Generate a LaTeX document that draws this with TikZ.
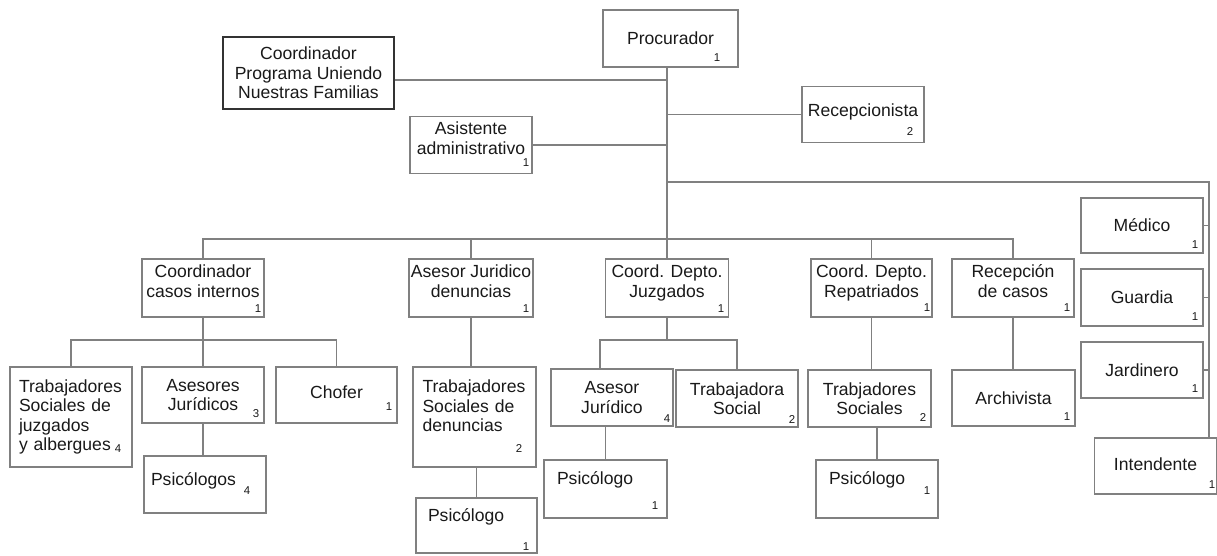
\documentclass[tikz,border=0pt]{standalone}
\usepackage{fontspec}
\setmainfont{Liberation Sans}
\tikzset{%
    caja/.style={draw=black!50,line width=0.6pt,inner xsep=1pt,inner ysep=0pt,align=center,minimum width=2.44cm,minimum height=1.14cm,font=\fontsize{10}{11.1}\selectfont,text=black!90},
    izq/.style={align=left,text width=#1},
    arriba/.style={text depth=#1},
    cifra/.style={inner sep=0pt,font=\fontsize{6.5}{7}\selectfont,text=black!90},
    linea/.style={draw=black!50,line width=0.6pt},
}
\begin{document}
\begin{tikzpicture}[x=0.02cm,y=-0.02cm]
	\useasboundingbox (0,0) rectangle (1217,555);
	
	%top
	\node[caja,minimum width=2.7cm] (proc) at (670.5,38.5) {Procurador};
	\node[caja,minimum width=3.42cm,minimum height=1.44cm,draw=black!80,line width=1.1pt] (cpun) at (308.5,73) {Coordinador\\Programa Uniendo\\Nuestras Familias};
	\node[caja,minimum height=1.12cm,arriba=4.5pt] (recep) at (863,114.5) {Recepcionista};
	\node[caja,arriba=8pt] (asist) at (471,145) {Asistente\\administrativo};
	
	%second level
	\node[caja,minimum height=1.16cm,arriba=8pt] (cci) at (203,288) {Coordinador\\casos internos};
	\node[caja,minimum width=2.48cm,minimum height=1.16cm,arriba=8pt] (ajd) at (471,288) {Asesor Juridico\\denuncias};
	\node[caja,minimum width=2.46cm,minimum height=1.16cm,arriba=8pt] (cdj) at (667,288) {Coord. Depto.\\Juzgados};
	\node[caja,minimum width=2.42cm,minimum height=1.16cm,arriba=8pt] (cdr) at (871.5,288) {Coord. Depto.\\Repatriados};
	\node[caja,minimum height=1.16cm,arriba=8pt] (rc) at (1013,288) {Recepción\\de casos};
	
	%third level
	\node[caja,minimum height=2cm,izq=2.08cm] (tsja) at (71,417) {Trabajadores\\Sociales de\\juzgados\\y albergues};
	\node[caja,minimum height=1.12cm] (asj) at (203,395) {Asesores\\Jurídicos};
	\node[caja,minimum width=2.42cm,minimum height=1.12cm,arriba=3pt] (chofer) at (336.5,395) {Chofer};
	\node[caja,minimum width=2.46cm,minimum height=2cm,izq=2.08cm,arriba=35pt] (tsd) at (474.5,417) {Trabajadores\\Sociales de\\denuncias};
	\node[caja] (aj) at (612,397.5) {Asesor\\Jurídico};
	\node[caja] (ts) at (737,398.5) {Trabajadora\\Social};
	\node[caja,minimum width=2.46cm] (tsr) at (869.5,398.5) {Trabjadores\\Sociales};
	\node[caja,minimum width=2.46cm,minimum height=1.12cm] (arch) at (1013.5,398) {Archivista};
	
	%fourth level
	\node[caja,izq=2.16cm,arriba=5.7pt] (psis) at (205,484.5) {Psicólogos};
	\node[caja,minimum width=2.42cm,minimum height=1.1cm,izq=1.94cm,arriba=11.4pt] (psd) at (476.5,525.5) {Psicólogo};
	\node[caja,minimum width=2.46cm,minimum height=1.16cm,izq=1.94cm,arriba=13pt] (psj) at (605.5,489) {Psicólogo};
	\node[caja,minimum height=1.16cm,izq=1.92cm,arriba=13pt] (psr) at (877,489) {Psicólogo};
	
	%right column
	\node[caja,minimum height=1.1cm] (med) at (1142,225.5) {Médico};
	\node[caja] (guar) at (1142,297.5) {Guardia};
	\node[caja,minimum height=1.12cm] (jard) at (1142,370) {Jardinero};
	\node[caja,minimum height=1.12cm,arriba=2pt] (inte) at (1155.5,466) {Intendente};
	
	%numbers
	\node[cifra] (c-proc) at (717,58) {1};
	\node[cifra] (c-recep) at (910,132) {2};
	\node[cifra] (c-asist) at (526,163) {1};
	\node[cifra] (c-cci) at (258,309) {1};
	\node[cifra] (c-ajd) at (526,309) {1};
	\node[cifra] (c-cdj) at (721,309) {1};
	\node[cifra] (c-cdr) at (927,308) {1};
	\node[cifra] (c-rc) at (1067,308) {1};
	\node[cifra] (c-tsja) at (118,449) {4};
	\node[cifra] (c-asj) at (256,414) {3};
	\node[cifra] (c-chofer) at (389,407) {1};
	\node[cifra] (c-psis) at (247,491) {4};
	\node[cifra] (c-tsd) at (519,449) {2};
	\node[cifra] (c-psd) at (526,547) {1};
	\node[cifra] (c-aj) at (667,419) {4};
	\node[cifra] (c-ts) at (792,420) {2};
	\node[cifra] (c-psj) at (655,506) {1};
	\node[cifra] (c-tsr) at (923,418) {2};
	\node[cifra] (c-psr) at (927,491) {1};
	\node[cifra] (c-arch) at (1067,417) {1};
	\node[cifra] (c-med) at (1195,245) {1};
	\node[cifra] (c-guar) at (1195,317) {1};
	\node[cifra] (c-jard) at (1195,389) {1};
	\node[cifra] (c-inte) at (1212,485) {1};
	
	%junctions
	\coordinate (j1) at (667,80);
	\coordinate (j3) at (667,182);
	\coordinate (d) at (1209,182);
	\coordinate (bus) at (667,239);
	\coordinate (b1) at (204,340);
	\coordinate (b2) at (667,340);
	%%%%%%%%%%%%%%%%%%%
	
	\draw[linea] (proc.south -| bus) -- (cdj.north);
	\draw[linea] (cpun.east |- j1) -- (j1);
	\draw[linea] (recep.west) -- (recep.west -| bus);
	\draw[linea] (asist.east) -- (asist.east -| bus);
	\draw[linea] (j3) -- (d) -- (d |- inte.north);
	\draw[linea] (med.east) -- (med.east -| d);
	\draw[linea] (guar.east) -- (guar.east -| d);
	\draw[linea] (jard.east) -- (jard.east -| d);
	
	\draw[linea] (cci.north) |- (bus) -| (rc.north);
	\draw[linea] (ajd.north) -- (ajd.north |- bus);
	\draw[linea] (cdr.north) -- (cdr.north |- bus);
	
	\draw[linea] (cci.south) -- (asj.north);
	\draw[linea] (tsja.north) |- (b1) -| (chofer.north);
	\draw[linea] (asj.south) -- (asj.south |- psis.north);
	\draw[linea] (ajd.south) -- (ajd.south |- tsd.north);
	\draw[linea] (psd.north) -- (psd.north |- tsd.south);
	\draw[linea] (cdj.south) -- (b2);
	\draw[linea] (aj.north) ++(-12,0) |- (b2) -| (ts.north);
	\draw[linea] (psj.north) -- (psj.north |- aj.south);
	\draw[linea] (cdr.south) -- (cdr.south |- tsr.north);
	\draw[linea] (psr.north) -- (psr.north |- tsr.south);
	\draw[linea] (rc.south) -- (rc.south |- arch.north);
	
\end{tikzpicture}
\end{document}
